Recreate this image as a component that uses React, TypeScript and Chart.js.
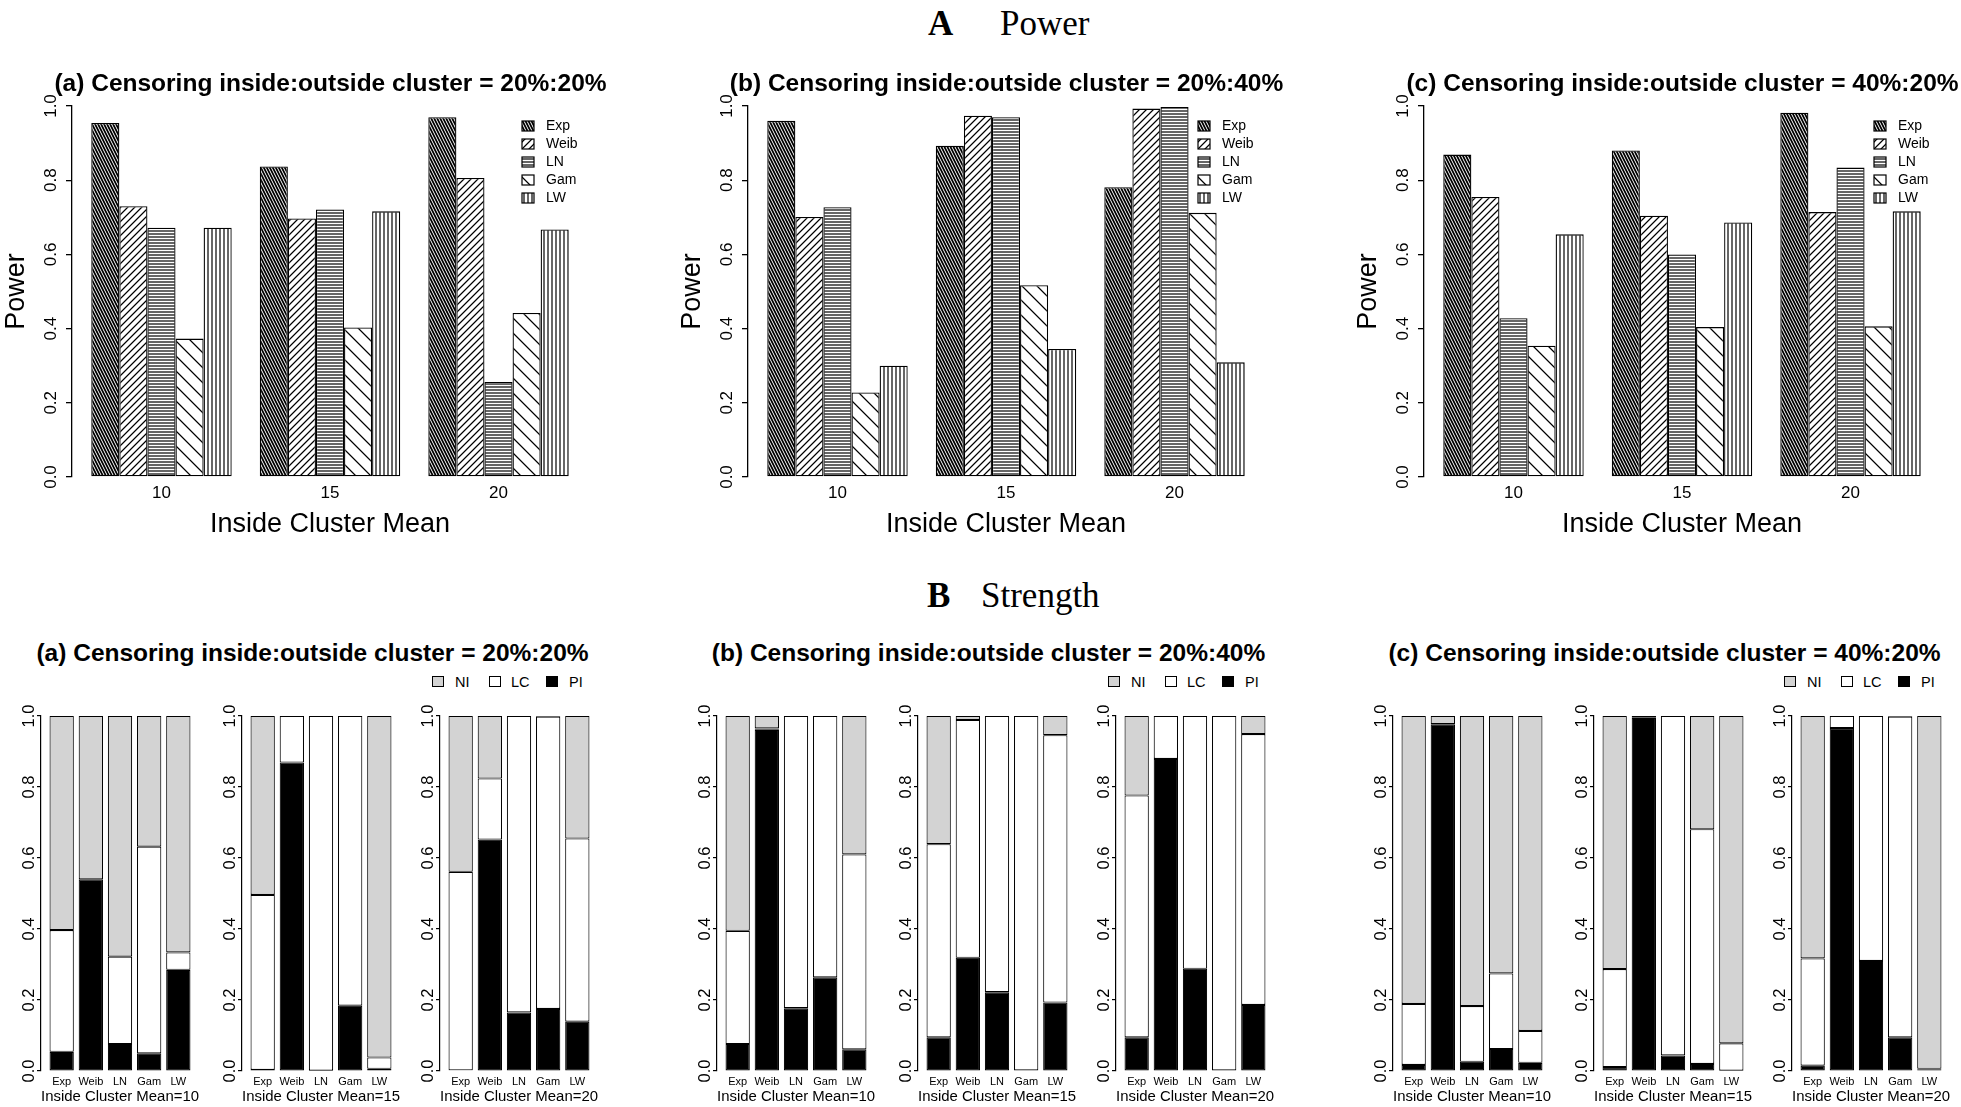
import React, { useEffect, useRef } from 'react';
import { Chart, registerables } from 'chart.js';

Chart.register(...registerables);

const SANS = "'Liberation Sans', Arial, Helvetica, sans-serif";
const SERIF = "'Liberation Serif', 'Times New Roman', Times, serif";
Chart.defaults.font.family = SANS;
Chart.defaults.color = '#000';

// ---------- categories / labels ----------
const meanLevels = ['10', '15', '20'];
const distributions = ['Exp', 'Weib', 'LN', 'Gam', 'LW'];
const outcomeLabels = ['PI', 'LC', 'NI']; // stacked from the bottom
const outcomeFills = ['#000000', '#ffffff', '#d3d3d3'];
const yTickValues = [0, 0.2, 0.4, 0.6, 0.8, 1.0];
const panelTitles = [
  '(a) Censoring inside:outside cluster = 20%:20%',
  '(b) Censoring inside:outside cluster = 20%:40%',
  '(c) Censoring inside:outside cluster = 40%:20%',
];

// ---------- A: Power ----------
// (a) 20%:20%  (values for means 10, 15, 20)
const powerA_Exp = [0.954, 0.837, 0.970];
const powerA_Weib = [0.730, 0.697, 0.806];
const powerA_LN = [0.672, 0.721, 0.256];
const powerA_Gam = [0.373, 0.403, 0.442];
const powerA_LW = [0.672, 0.716, 0.667];
// (b) 20%:40%
const powerB_Exp = [0.960, 0.893, 0.781];
const powerB_Weib = [0.701, 0.974, 0.993];
const powerB_LN = [0.727, 0.970, 0.997];
const powerB_Gam = [0.228, 0.517, 0.712];
const powerB_LW = [0.300, 0.345, 0.309];
// (c) 40%:20%
const powerC_Exp = [0.869, 0.880, 0.982];
const powerC_Weib = [0.755, 0.704, 0.714];
const powerC_LN = [0.428, 0.600, 0.834];
const powerC_Gam = [0.354, 0.404, 0.406];
const powerC_LW = [0.654, 0.686, 0.716];

// ---------- B: Strength (Exp, Weib, LN, Gam, LW) ----------
// (a) 20%:20%
const strengthA10_PI = [0.054, 0.540, 0.076, 0.050, 0.285];
const strengthA10_LC = [0.343, 0.000, 0.246, 0.582, 0.049];
const strengthA10_NI = [0.603, 0.460, 0.678, 0.368, 0.666];
const strengthA15_PI = [0.003, 0.869, 0.001, 0.184, 0.006];
const strengthA15_LC = [0.493, 0.131, 0.999, 0.816, 0.032];
const strengthA15_NI = [0.504, 0.000, 0.000, 0.000, 0.962];
const strengthA20_PI = [0.002, 0.652, 0.165, 0.175, 0.139];
const strengthA20_LC = [0.559, 0.172, 0.835, 0.823, 0.516];
const strengthA20_NI = [0.439, 0.176, 0.000, 0.002, 0.345];
// (b) 20%:40%
const strengthB10_PI = [0.076, 0.961, 0.177, 0.264, 0.061];
const strengthB10_LC = [0.319, 0.004, 0.823, 0.736, 0.549];
const strengthB10_NI = [0.605, 0.035, 0.000, 0.000, 0.390];
const strengthB15_PI = [0.095, 0.319, 0.222, 0.000, 0.193];
const strengthB15_LC = [0.544, 0.670, 0.778, 1.000, 0.753];
const strengthB15_NI = [0.361, 0.011, 0.000, 0.000, 0.054];
const strengthB20_PI = [0.095, 0.879, 0.288, 0.000, 0.186];
const strengthB20_LC = [0.681, 0.121, 0.712, 1.000, 0.763];
const strengthB20_NI = [0.224, 0.000, 0.000, 0.000, 0.051];
// (c) 40%:20%
const strengthC10_PI = [0.017, 0.977, 0.026, 0.062, 0.023];
const strengthC10_LC = [0.172, 0.000, 0.157, 0.213, 0.090];
const strengthC10_NI = [0.811, 0.023, 0.817, 0.725, 0.887];
const strengthC15_PI = [0.011, 0.995, 0.044, 0.020, 0.001];
const strengthC15_LC = [0.276, 0.002, 0.956, 0.661, 0.077];
const strengthC15_NI = [0.713, 0.003, 0.000, 0.319, 0.922];
const strengthC20_PI = [0.015, 0.966, 0.310, 0.095, 0.005];
const strengthC20_LC = [0.302, 0.034, 0.690, 0.903, 0.001];
const strengthC20_NI = [0.683, 0.000, 0.000, 0.002, 0.994];

const powerPanels = [
  [powerA_Exp, powerA_Weib, powerA_LN, powerA_Gam, powerA_LW],
  [powerB_Exp, powerB_Weib, powerB_LN, powerB_Gam, powerB_LW],
  [powerC_Exp, powerC_Weib, powerC_LN, powerC_Gam, powerC_LW],
];
const strengthPanels = [
  [
    [strengthA10_PI, strengthA10_LC, strengthA10_NI],
    [strengthA15_PI, strengthA15_LC, strengthA15_NI],
    [strengthA20_PI, strengthA20_LC, strengthA20_NI],
  ],
  [
    [strengthB10_PI, strengthB10_LC, strengthB10_NI],
    [strengthB15_PI, strengthB15_LC, strengthB15_NI],
    [strengthB20_PI, strengthB20_LC, strengthB20_NI],
  ],
  [
    [strengthC10_PI, strengthC10_LC, strengthC10_NI],
    [strengthC15_PI, strengthC15_LC, strengthC15_NI],
    [strengthC20_PI, strengthC20_LC, strengthC20_NI],
  ],
];

// ---------- layout ----------
const panelOffsets = [0, 676, 1352];
const subAxisX = [41, 242, 440];

// ---------- hatch patterns ----------
function mod(a: number, n: number) {
  return ((a % n) + n) % n;
}
function makeTile(w: number, h: number, dist: (x: number, y: number) => number, lw: number) {
  const c = document.createElement('canvas');
  c.width = w;
  c.height = h;
  const cx = c.getContext('2d')!;
  const img = cx.createImageData(w, h);
  const S = 5;
  for (let y = 0; y < h; y++) {
    for (let x = 0; x < w; x++) {
      let cov = 0;
      for (let sy = 0; sy < S; sy++) {
        for (let sx = 0; sx < S; sx++) {
          if (dist(x + (sx + 0.5) / S, y + (sy + 0.5) / S) <= lw / 2) cov++;
        }
      }
      cov /= S * S;
      const v = Math.round(255 * (1 - cov));
      const i = (y * w + x) * 4;
      img.data[i] = v;
      img.data[i + 1] = v;
      img.data[i + 2] = v;
      img.data[i + 3] = 255;
    }
  }
  cx.putImageData(img, 0, 0);
  return c;
}
let tiles: Record<string, HTMLCanvasElement> | null = null;
function getTiles() {
  if (!tiles) {
    tiles = {
      Exp: makeTile(3, 6, (x, y) => { const t = mod(x - y / 2, 3); return Math.min(t, 3 - t) * 0.894; }, 1.7),
      Weib: makeTile(7, 7, (x, y) => { const t = mod(x + y, 7); return Math.min(t, 7 - t) * 0.7071; }, 1.3),
      LN: makeTile(1, 3, (x, y) => { const t = mod(y, 3); return Math.min(t, 3 - t); }, 1.3),
      Gam: makeTile(15, 15, (x, y) => { const t = mod(x - y, 15); return Math.min(t, 15 - t) * 0.7071; }, 1.3),
      LW: makeTile(4, 1, (x, y) => { const t = mod(x, 4); return Math.min(t, 4 - t); }, 1.4),
    };
  }
  return tiles;
}
function patternsFor(ctx: CanvasRenderingContext2D) {
  const t = getTiles();
  const out: Record<string, any> = {};
  for (const k of Object.keys(t)) out[k] = ctx.createPattern(t[k], 'repeat');
  return out;
}

// legend drawn inside the plot area (top right), as in the R figure
const patternLegend = {
  id: 'patternLegend',
  afterDatasetsDraw(chart: any) {
    const { ctx, chartArea } = chart;
    ctx.save();
    ctx.font = `14px ${SANS}`;
    ctx.textBaseline = 'middle';
    ctx.textAlign = 'left';
    chart.data.datasets.forEach((ds: any, i: number) => {
      const cy = chartArea.top + 20 + 18 * i;
      const bx = chartArea.right - 66;
      ctx.fillStyle = ds.backgroundColor;
      ctx.fillRect(bx, cy - 5, 12, 10);
      ctx.strokeStyle = '#000';
      ctx.lineWidth = 1.2;
      ctx.strokeRect(bx, cy - 5, 12, 10);
      ctx.fillStyle = '#000';
      ctx.fillText(ds.label, bx + 24, cy);
    });
    ctx.restore();
  },
};

function powerConfig(ctx: CanvasRenderingContext2D, series: number[][]) {
  const pats = patternsFor(ctx);
  return {
    type: 'bar',
    data: {
      datasets: distributions.map((name, k) => ({
        label: name,
        data: series[k].map((v, i) => ({ x: i, y: v })),
        backgroundColor: pats[name],
        borderColor: '#000',
        borderWidth: 1.3,
        borderSkipped: false,
        barPercentage: 1,
        categoryPercentage: 5 / 6,
      })),
    },
    options: {
      responsive: false,
      animation: false,
      devicePixelRatio: 1,
      events: [],
      layout: { padding: { top: 16, right: 8, left: 0, bottom: 0 } },
      plugins: { legend: { display: false }, tooltip: { enabled: false } },
      scales: {
        x: {
          type: 'linear',
          offset: false,
          bounds: 'data',
          min: -0.531,
          max: 2.531,
          grid: { display: false, drawTicks: false },
          border: { display: false },
          afterBuildTicks: (s: any) => { s.ticks = meanLevels.map((_, i) => ({ value: i })); },
          afterFit: (s: any) => { s.height = 64; s.paddingLeft = 0; s.paddingRight = 0; },
          ticks: {
            autoSkip: false,
            maxRotation: 0,
            font: { size: 17 },
            padding: 6,
            callback: (v: any) => meanLevels[v],
          },
          title: { display: true, text: 'Inside Cluster Mean', font: { size: 27 }, padding: 0 },
        },
        y: {
          type: 'linear',
          min: 0,
          max: 1,
          afterBuildTicks: (s: any) => { s.ticks = yTickValues.map((v) => ({ value: v })); },
          afterFit: (s: any) => { s.width = 72; s.paddingTop = 0; s.paddingBottom = 0; },
          grid: { drawOnChartArea: false, drawTicks: true, tickLength: 6, color: '#000', lineWidth: 1.3 },
          border: { display: true, color: '#000', width: 1.3 },
          ticks: {
            autoSkip: false,
            minRotation: 90,
            maxRotation: 90,
            crossAlign: 'center',
            padding: 3,
            font: { size: 17 },
            callback: (v: any) => Number(v).toFixed(1),
          },
          title: { display: true, text: 'Power', font: { size: 27 }, padding: 0 },
        },
      },
    },
    plugins: [patternLegend],
  };
}

function strengthConfig(_ctx: CanvasRenderingContext2D, parts: number[][], mean: string) {
  return {
    type: 'bar',
    data: {
      datasets: outcomeLabels.map((name, k) => ({
        label: name,
        data: parts[k].map((v, i) => ({ x: i, y: v })),
        backgroundColor: outcomeFills[k],
        borderColor: '#000',
        borderWidth: 1.1,
        borderSkipped: false,
        barPercentage: 1,
        categoryPercentage: 1 / 1.2,
      })),
    },
    options: {
      responsive: false,
      animation: false,
      devicePixelRatio: 1,
      events: [],
      layout: { padding: { top: 16, right: 4, left: 0, bottom: 0 } },
      plugins: { legend: { display: false }, tooltip: { enabled: false } },
      scales: {
        x: {
          type: 'linear',
          stacked: true,
          offset: false,
          bounds: 'data',
          min: -0.709,
          max: 4.709,
          grid: { display: false, drawTicks: false },
          border: { display: false },
          afterBuildTicks: (s: any) => { s.ticks = distributions.map((_, i) => ({ value: i })); },
          afterFit: (s: any) => { s.height = 35; s.paddingLeft = 0; s.paddingRight = 0; },
          ticks: {
            autoSkip: false,
            maxRotation: 0,
            font: { size: 11 },
            padding: 4,
            callback: (v: any) => distributions[v],
          },
          title: { display: true, text: 'Inside Cluster Mean=' + mean, font: { size: 15.5 }, padding: 0 },
        },
        y: {
          type: 'linear',
          stacked: true,
          min: 0,
          max: 1,
          afterBuildTicks: (s: any) => { s.ticks = yTickValues.map((v) => ({ value: v })); },
          afterFit: (s: any) => { s.width = 30; s.paddingTop = 0; s.paddingBottom = 0; },
          grid: { drawOnChartArea: false, drawTicks: true, tickLength: 4, color: '#000', lineWidth: 1.2 },
          border: { display: true, color: '#000', width: 1.2 },
          ticks: {
            autoSkip: false,
            minRotation: 90,
            maxRotation: 90,
            crossAlign: 'center',
            padding: -3.5,
            font: { size: 16.5 },
            callback: (v: any) => Number(v).toFixed(1),
          },
        },
      },
    },
  };
}

function ChartCanvas(props: { left: number; top: number; width: number; height: number; build: (ctx: CanvasRenderingContext2D) => any }) {
  const { left, top, width, height, build } = props;
  const ref = useRef<HTMLCanvasElement | null>(null);
  useEffect(() => {
    const canvas = ref.current!;
    const chart = new Chart(canvas, build(canvas.getContext('2d')!));
    return () => chart.destroy();
  }, []);
  return (
    <canvas
      ref={ref}
      width={width}
      height={height}
      style={{ position: 'absolute', left, top, width, height, display: 'block' }}
    />
  );
}

function Text(props: { x: number; cy: number; size: number; bold?: boolean; serif?: boolean; center?: boolean; children: any }) {
  const { x, cy, size, bold, serif, center, children } = props;
  return (
    <div
      style={{
        position: 'absolute',
        left: x,
        top: cy - size / 2,
        transform: center ? 'translateX(-50%)' : undefined,
        fontSize: size,
        lineHeight: `${size}px`,
        fontWeight: bold ? 700 : 400,
        fontFamily: serif ? SERIF : SANS,
        whiteSpace: 'nowrap',
        color: '#000',
      }}
    >
      {children}
    </div>
  );
}

const legendBoxX = [432, 489, 546];
const legendTextX = [455, 511, 569];
const legendOrder = [2, 1, 0]; // NI, LC, PI

export default function App() {
  return (
    <div
      style={{
        position: 'fixed',
        left: 0,
        top: 0,
        width: 1961,
        height: 1107,
        background: '#fff',
        overflow: 'hidden',
      }}
    >
      {powerPanels.map((series, p) => (
        <ChartCanvas
          key={'pow' + p}
          left={panelOffsets[p]}
          top={90}
          width={596}
          height={451}
          build={(ctx) => powerConfig(ctx, series)}
        />
      ))}
      {strengthPanels.map((subs, p) =>
        subs.map((parts, s) => (
          <ChartCanvas
            key={'str' + p + '_' + s}
            left={panelOffsets[p] + subAxisX[s] - 30}
            top={700}
            width={192}
            height={406}
            build={(ctx) => strengthConfig(ctx, parts, meanLevels[s])}
          />
        ))
      )}

      <Text x={928} cy={23} size={35} bold serif>A</Text>
      <Text x={1000} cy={23} size={35} serif>Power</Text>
      <Text x={927} cy={595} size={35} bold serif>B</Text>
      <Text x={981} cy={595} size={35} serif>Strength</Text>

      {panelTitles.map((t, p) => (
        <Text key={'tt' + p} x={330.5 + panelOffsets[p]} cy={83.5} size={24.5} bold center>{t}</Text>
      ))}
      {panelTitles.map((t, p) => (
        <Text key={'bt' + p} x={312.5 + panelOffsets[p]} cy={653.5} size={24.5} bold center>{t}</Text>
      ))}

      {panelOffsets.map((off, p) =>
        legendOrder.map((k, j) => (
          <React.Fragment key={'lg' + p + '_' + j}>
            <div
              style={{
                position: 'absolute',
                left: off + legendBoxX[j],
                top: 676,
                width: 12,
                height: 11,
                boxSizing: 'border-box',
                border: '1.5px solid #000',
                background: outcomeFills[k],
              }}
            />
            <Text x={off + legendTextX[j]} cy={682} size={14.5}>{outcomeLabels[k]}</Text>
          </React.Fragment>
        ))
      )}
    </div>
  );
}
